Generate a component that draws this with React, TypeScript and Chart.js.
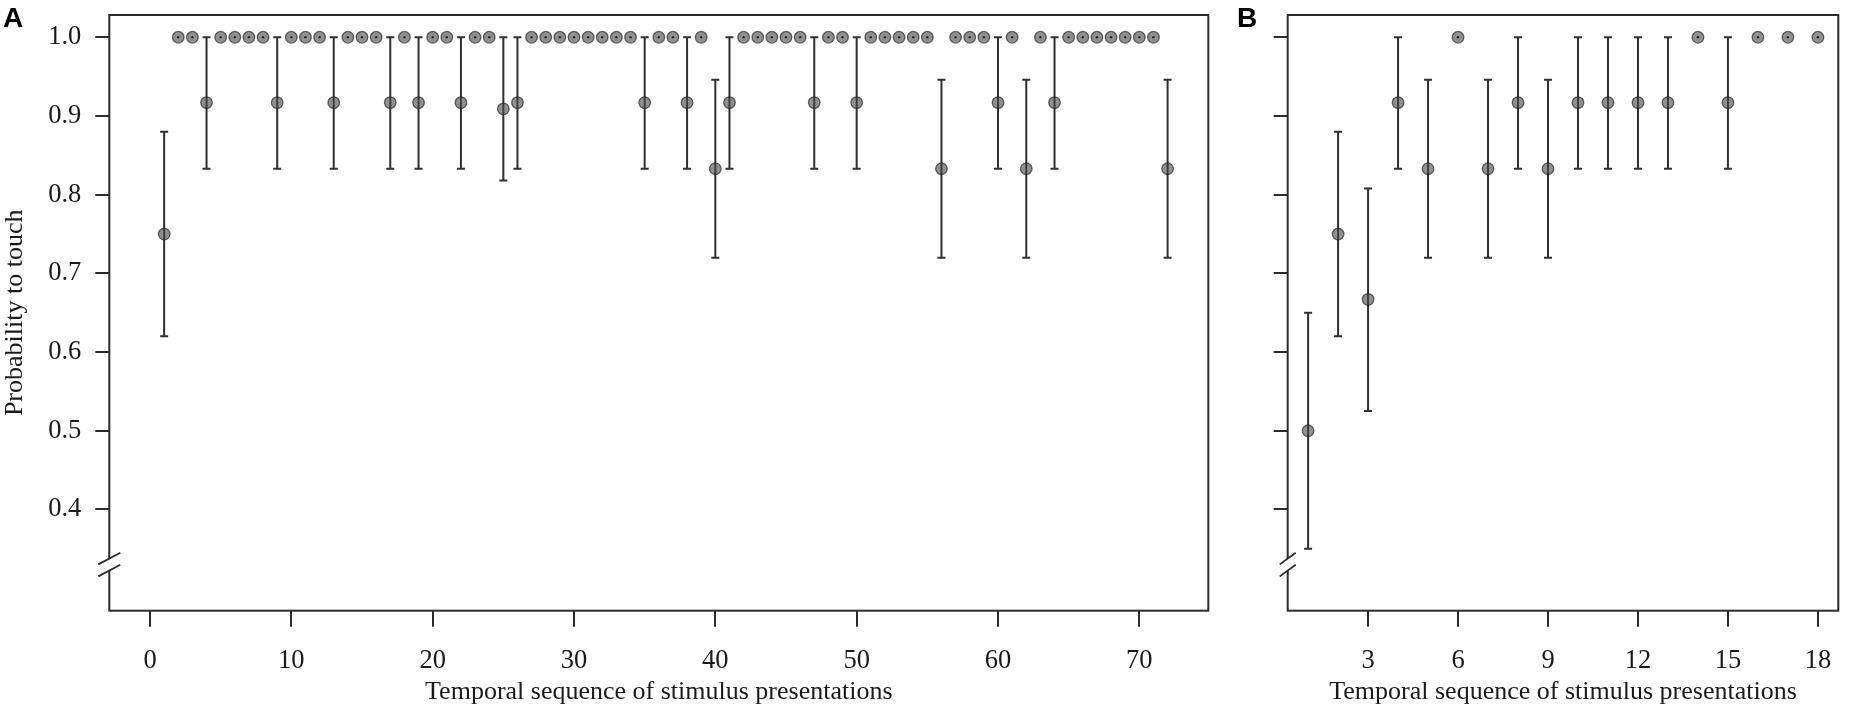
import React, { useEffect, useRef } from "react";
import { Chart, registerables } from "chart.js";

Chart.register(...registerables);

// ---------- Panel A data ----------
const xA = [1, 2, 3, 4, 5, 6, 7, 8, 9, 10, 11, 12, 13, 14, 15, 16, 17, 18, 19, 20, 21, 22, 23, 24,
  25, 26, 27, 28, 29, 30, 31, 32, 33, 34, 35, 36, 37, 38, 39, 40, 41, 42, 43, 44, 45, 46, 47, 48,
  49, 50, 51, 52, 53, 54, 55, 56, 57, 58, 59, 60, 61, 62, 63, 64, 65, 66, 67, 68, 69, 70, 71, 72];
const pA = [0.75, 1, 1, 0.917, 1, 1, 1, 1, 0.917, 1, 1, 1, 0.917, 1, 1, 1, 0.917, 1, 0.917, 1, 1, 0.917, 1, 1,
  0.909, 0.917, 1, 1, 1, 1, 1, 1, 1, 1, 0.917, 1, 1, 0.917, 1, 0.833, 0.917, 1, 1, 1, 1, 1, 0.917, 1,
  1, 0.917, 1, 1, 1, 1, 1, 0.833, 1, 1, 1, 0.917, 1, 0.833, 1, 0.917, 1, 1, 1, 1, 1, 1, 1, 0.833];
const lowA = [0.62, 1, 1, 0.833, 1, 1, 1, 1, 0.833, 1, 1, 1, 0.833, 1, 1, 1, 0.833, 1, 0.833, 1, 1, 0.833, 1, 1,
  0.818, 0.833, 1, 1, 1, 1, 1, 1, 1, 1, 0.833, 1, 1, 0.833, 1, 0.72, 0.833, 1, 1, 1, 1, 1, 0.833, 1,
  1, 0.833, 1, 1, 1, 1, 1, 0.72, 1, 1, 1, 0.833, 1, 0.72, 1, 0.833, 1, 1, 1, 1, 1, 1, 1, 0.72];
const highA = [0.88, 1, 1, 1, 1, 1, 1, 1, 1, 1, 1, 1, 1, 1, 1, 1, 1, 1, 1, 1, 1, 1, 1, 1,
  1, 1, 1, 1, 1, 1, 1, 1, 1, 1, 1, 1, 1, 1, 1, 0.946, 1, 1, 1, 1, 1, 1, 1, 1,
  1, 1, 1, 1, 1, 1, 1, 0.946, 1, 1, 1, 1, 1, 0.946, 1, 1, 1, 1, 1, 1, 1, 1, 1, 0.946];
const xTicksA = [0, 10, 20, 30, 40, 50, 60, 70];

// ---------- Panel B data ----------
const xB = [1, 2, 3, 4, 5, 6, 7, 8, 9, 10, 11, 12, 13, 14, 15, 16, 17, 18];
const pB = [0.5, 0.75, 0.667, 0.917, 0.833, 1, 0.833, 0.917, 0.833, 0.917, 0.917, 0.917, 0.917, 1, 0.917, 1, 1, 1];
const lowB = [0.35, 0.62, 0.525, 0.833, 0.72, 1, 0.72, 0.833, 0.72, 0.833, 0.833, 0.833, 0.833, 1, 0.833, 1, 1, 1];
const highB = [0.65, 0.88, 0.808, 1, 0.946, 1, 0.946, 1, 0.946, 1, 1, 1, 1, 1, 1, 1, 1, 1];
const xTicksB = [3, 6, 9, 12, 15, 18];

// ---------- shared ----------
const yTicks = [0.4, 0.5, 0.6, 0.7, 0.8, 0.9, 1.0];
const yBreak = 0.33;
const xLabel = "Temporal sequence of stimulus presentations";
const yLabel = "Probability to touch";

const INK = "#2b2b2b";
const SERIF = "'Liberation Serif', 'Times New Roman', serif";

type PanelCfg = {
  letter: string;
  letterX: number;
  xs: number[];
  ps: number[];
  lows: number[];
  highs: number[];
  xTicks: number[];
  xMin: number;
  xMax: number;
  yAxisWidth: number;
  padRight: number;
  showYLabels: boolean;
  breakHalfW: number;
};

function makeChart(canvas: HTMLCanvasElement, c: PanelCfg) {
  const panelPlugin = {
    id: "panelDecor",
    beforeDatasetsDraw(chart: any) {
      const ctx = chart.ctx;
      const xs = chart.scales.x;
      const ys = chart.scales.y;
      ctx.save();
      ctx.strokeStyle = "#303030";
      ctx.lineWidth = 2;
      for (let i = 0; i < c.xs.length; i++) {
        if (c.highs[i] - c.lows[i] <= 0) continue;
        const px = xs.getPixelForValue(c.xs[i]);
        const y1 = ys.getPixelForValue(c.lows[i]);
        const y2 = ys.getPixelForValue(c.highs[i]);
        ctx.beginPath();
        ctx.moveTo(px, y1);
        ctx.lineTo(px, y2);
        ctx.moveTo(px - 4, y1);
        ctx.lineTo(px + 4, y1);
        ctx.moveTo(px - 4, y2);
        ctx.lineTo(px + 4, y2);
        ctx.stroke();
      }
      ctx.restore();
    },
    afterDatasetsDraw(chart: any) {
      const ctx = chart.ctx;
      const xs = chart.scales.x;
      const ys = chart.scales.y;
      ctx.save();
      ctx.fillStyle = "#2a2a2a";
      for (let i = 0; i < c.xs.length; i++) {
        if (c.highs[i] - c.lows[i] > 0) continue;
        const px = xs.getPixelForValue(c.xs[i]);
        const py = ys.getPixelForValue(c.ps[i]);
        ctx.beginPath();
        ctx.arc(px, py, 1.2, 0, Math.PI * 2);
        ctx.fill();
      }
      ctx.restore();
    },
    afterDraw(chart: any) {
      const ctx = chart.ctx;
      const a = chart.chartArea;
      const ys = chart.scales.y;
      ctx.save();
      // frame
      ctx.strokeStyle = INK;
      ctx.lineWidth = 2;
      ctx.strokeRect(a.left, a.top, a.right - a.left, a.bottom - a.top);
      // axis break
      const yb = ys.getPixelForValue(yBreak);
      const hw = c.breakHalfW;
      const hh = 5.8;
      const gap = 6;
      ctx.fillStyle = "#fff";
      ctx.beginPath();
      ctx.moveTo(a.left - hw, yb - gap + hh);
      ctx.lineTo(a.left + hw, yb - gap - hh);
      ctx.lineTo(a.left + hw, yb + gap - hh);
      ctx.lineTo(a.left - hw, yb + gap + hh);
      ctx.closePath();
      ctx.fill();
      ctx.lineWidth = 1.8;
      ctx.beginPath();
      ctx.moveTo(a.left - hw, yb - gap + hh);
      ctx.lineTo(a.left + hw, yb - gap - hh);
      ctx.moveTo(a.left - hw, yb + gap + hh);
      ctx.lineTo(a.left + hw, yb + gap - hh);
      ctx.stroke();
      // panel letter
      ctx.fillStyle = "#000";
      ctx.font = "bold 28px 'Liberation Sans', Arial, sans-serif";
      ctx.textBaseline = "alphabetic";
      ctx.textAlign = "left";
      ctx.fillText(c.letter, c.letterX, 27);
      ctx.restore();
    },
  };

  return new Chart(canvas, {
    type: "scatter",
    data: {
      datasets: [
        {
          data: c.xs.map((x, i) => ({ x, y: c.ps[i] })),
          pointRadius: 5.8,
          pointHoverRadius: 5.8,
          pointBorderWidth: 1.3,
          backgroundColor: "rgba(70,70,70,0.6)",
          borderColor: "rgba(30,30,30,0.65)",
          showLine: false,
        },
      ],
    },
    options: {
      responsive: false,
      animation: false,
      devicePixelRatio: 1,
      layout: { autoPadding: false, padding: { left: 0, top: 15, right: c.padRight, bottom: 0 } },
      plugins: { legend: { display: false }, tooltip: { enabled: false }, title: { display: false } },
      scales: {
        x: {
          type: "linear",
          min: c.xMin,
          max: c.xMax,
          afterBuildTicks: (s: any) => {
            s.ticks = c.xTicks.map((v) => ({ value: v }));
          },
          afterFit: (s: any) => {
            s.height = 103.3;
            s.paddingLeft = 0;
            s.paddingRight = 0;
          },
          border: { display: false },
          grid: { drawOnChartArea: false, drawTicks: true, tickLength: 16, color: INK, lineWidth: 2 },
          ticks: {
            autoSkip: false,
            maxRotation: 0,
            padding: 18,
            color: "#1a1a1a",
            font: { family: SERIF, size: 26.5 },
            callback: (v: any) => String(v),
          },
          title: {
            display: true,
            text: xLabel,
            color: "#1a1a1a",
            font: { family: SERIF, size: 26 },
            padding: { top: 0, bottom: 6 },
          },
        },
        y: {
          type: "linear",
          min: 0.2714,
          max: 1.0283,
          afterBuildTicks: (s: any) => {
            s.ticks = yTicks.map((v) => ({ value: v }));
          },
          afterFit: (s: any) => {
            s.width = c.yAxisWidth;
            s.paddingTop = 0;
            s.paddingBottom = 0;
          },
          border: { display: false },
          grid: { drawOnChartArea: false, drawTicks: true, tickLength: 14, color: INK, lineWidth: 2 },
          ticks: {
            autoSkip: false,
            padding: 14,
            color: "#1a1a1a",
            font: { family: SERIF, size: 26.5 },
            callback: (v: any) => (c.showYLabels ? Number(v).toFixed(1) : ""),
          },
          title: {
            display: c.showYLabels,
            text: yLabel,
            color: "#1a1a1a",
            font: { family: SERIF, size: 26, lineHeight: 1 },
            padding: { top: 2, bottom: 0 },
          },
        },
      },
    },
    plugins: [panelPlugin],
  } as any);
}

const panelA: PanelCfg = {
  letter: "A",
  letterX: 3,
  xs: xA,
  ps: pA,
  lows: lowA,
  highs: highA,
  xTicks: xTicksA,
  xMin: -2.88,
  xMax: 74.88,
  yAxisWidth: 109.3,
  padRight: 1230 - 1208.3,
  showYLabels: true,
  breakHalfW: 11,
};

const panelB: PanelCfg = {
  letter: "B",
  letterX: 7,
  xs: xB,
  ps: pB,
  lows: lowB,
  highs: highB,
  xTicks: xTicksB,
  xMin: 0.32,
  xMax: 18.68,
  yAxisWidth: 57.7,
  padRight: 621 - 608.3,
  showYLabels: false,
  breakHalfW: 8,
};

export default function App() {
  const refA = useRef<HTMLCanvasElement | null>(null);
  const refB = useRef<HTMLCanvasElement | null>(null);

  useEffect(() => {
    const ca = makeChart(refA.current as HTMLCanvasElement, panelA);
    const cb = makeChart(refB.current as HTMLCanvasElement, panelB);
    return () => {
      ca.destroy();
      cb.destroy();
    };
  }, []);

  return (
    <div style={{ position: "absolute", left: 0, top: 0, width: 1851, height: 714, background: "#fff", overflow: "hidden" }}>
      <canvas
        ref={refA}
        width={1230}
        height={714}
        style={{ position: "absolute", left: 0, top: 0, width: 1230, height: 714 }}
      />
      <canvas
        ref={refB}
        width={621}
        height={714}
        style={{ position: "absolute", left: 1230, top: 0, width: 621, height: 714 }}
      />
    </div>
  );
}
